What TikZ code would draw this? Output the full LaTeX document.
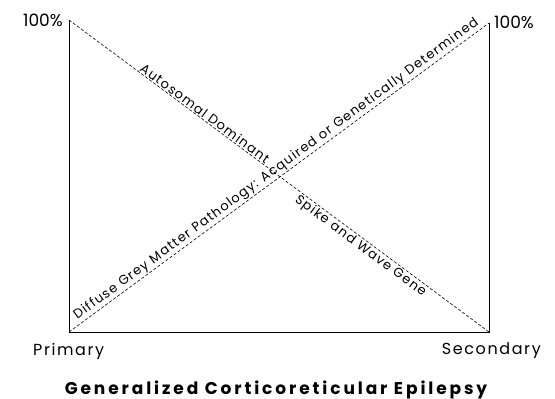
\documentclass[tikz,border=0pt]{standalone}
\usepackage{fontspec}
\setmainfont{Poppins}
\newfontfamily\diagfont[LetterSpace=9]{Poppins}
\newfontfamily\endfont[LetterSpace=10]{Poppins}
\newfontfamily\titlefont[LetterSpace=17]{Poppins}
\begin{document}
\begin{tikzpicture}[x=1pt,y=-1pt,
  axisline/.style={line width=0.9pt},
  dashline/.style={line width=0.6pt,dash pattern=on 3pt off 2pt},
  difflabel/.style={font=\diagfont\fontsize{13}{15}\selectfont,inner sep=1pt,sloped},
  pctlabel/.style={font=\fontsize{17}{19}\selectfont,inner sep=0pt},
  endlabel/.style={font=\endfont\fontsize{16}{18}\selectfont,inner sep=0pt},
  titlelabel/.style={font=\titlefont\bfseries\fontsize{17}{20}\selectfont,inner sep=0pt}]
\useasboundingbox (0,0) rectangle (555,399);
\coordinate (TL) at (69,20);
\coordinate (BL) at (69,332);
\coordinate (BR) at (489,332);
\coordinate (TR) at (489,23);
\draw[axisline] (TL) -- (BL) -- (BR) -- (TR);
\draw[dashline] (TL) -- node[difflabel,above,pos=0.315] (ad) {Autosomal Dominant}
  node[difflabel,below,pos=0.705] (sw) {Spike and Wave Gene} (BR);
\draw[dashline] (BL) -- node[difflabel,above,pos=0.505] (dg) {Diffuse Grey Matter Pathology: Acquired or Genetically Determined} (TR);
\node[pctlabel,anchor=east] (pl) at (63,20) {100\%};
\node[pctlabel,anchor=west] (pr) at (494,22) {100\%};
\node[endlabel,anchor=base west] (prim) at (33,355) {Primary};
\node[endlabel,anchor=base east] (sec) at (541,354) {Secondary};
\node[titlelabel,anchor=base] (title) at (276,394) {Generalized Corticoreticular Epilepsy};
\end{tikzpicture}
\end{document}
